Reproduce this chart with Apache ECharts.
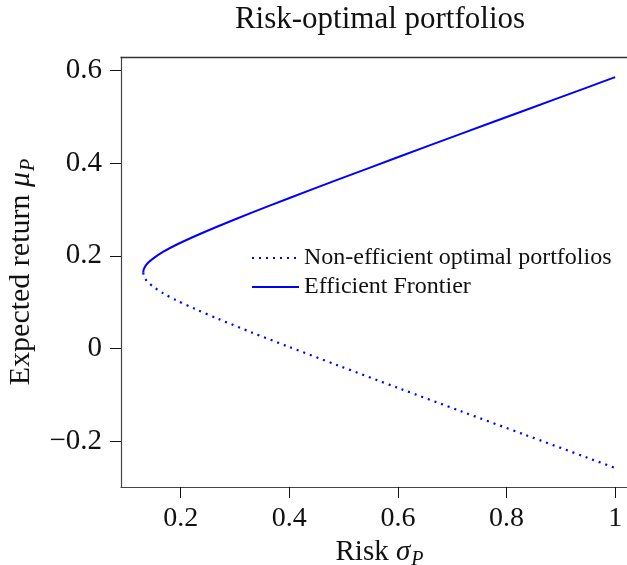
<!DOCTYPE html>
<html>
<head>
<meta charset="utf-8">
<script src="https://cdn.jsdelivr.net/npm/echarts@6/dist/echarts.min.js"></script>
<style>html,body{margin:0;padding:0;background:#fff}#c{width:627px;height:565px}</style>
</head>
<body>
<div id="c"></div>
<script>
// Values
var riskValues = [0.131, 0.1315, 0.133, 0.139, 0.149, 0.168, 0.192, 0.229, 0.269, 0.332, 0.398, 0.488, 0.602, 0.717, 0.833, 0.949, 1.0];
var efficientMu = [0.164, 0.169, 0.174, 0.184, 0.194, 0.209, 0.224, 0.244, 0.264, 0.294, 0.324, 0.364, 0.414, 0.464, 0.514, 0.564, 0.586];
var nonEfficientMu = [0.164, 0.159, 0.154, 0.144, 0.134, 0.119, 0.104, 0.084, 0.064, 0.034, 0.004, -0.036, -0.086, -0.136, -0.186, -0.236, -0.258];
var xTicks = [0.2, 0.4, 0.6, 0.8, 1];
var yTicks = [-0.2, 0, 0.2, 0.4, 0.6];

var FONT = '"Liberation Serif", "DejaVu Serif", serif';
function pairs(xs, ys) { return xs.map(function (x, i) { return [x, ys[i]]; }); }
function fmt(v) { return String(+v.toFixed(2)).replace('-', '\u2212'); }

var XMIN = 0.090, XMAX = 1.042;
var chart = echarts.init(document.getElementById('c'), null, { renderer: 'canvas' });
chart.setOption({
  animation: false,
  backgroundColor: '#fff',
  graphic: [{
    type: 'text', x: 380, y: 4,
    style: { text: 'Risk-optimal portfolios', fontSize: 31, fontFamily: FONT, fill: '#111', align: 'center', textAlign: 'center' }
  }],
  grid: { left: 121, top: 57, right: -11, bottom: 78, outerBoundsMode: 'none', containLabel: false, show: false },
  legend: {
    orient: 'vertical', left: 251, top: 246, itemWidth: 47, itemHeight: 14, itemGap: 5, padding: 0,
    itemStyle: { opacity: 0 },
    textStyle: { fontSize: 24, fontFamily: FONT, color: '#111' },
    data: ['Non-efficient optimal portfolios', 'Efficient Frontier']
  },
  xAxis: [{
    type: 'value', min: XMIN, max: XMAX,
    splitLine: { show: false },
    axisLine: { show: true, onZero: false, lineStyle: { color: '#444', width: 1.2 } },
    axisTick: { show: true, inside: false, length: 11, customValues: xTicks, lineStyle: { color: '#111', width: 1 } },
    axisLabel: { customValues: xTicks, margin: 18, fontSize: 28, fontFamily: FONT, color: '#111', formatter: fmt },
    name: 'Risk {i|σ}{s|P}', nameLocation: 'middle', nameGap: 42,
    nameTextStyle: {
      fontSize: 29, fontFamily: FONT, color: '#111',
      rich: {
        i: { fontSize: 29, fontFamily: FONT, fontStyle: 'italic', color: '#111' },
        s: { fontSize: 20, fontFamily: FONT, fontStyle: 'italic', color: '#111', padding: [14, 0, 0, 1] }
      }
    }
  }, {
    type: 'value', position: 'top', min: XMIN, max: XMAX,
    splitLine: { show: false },
    axisLine: { show: true, onZero: false, lineStyle: { color: '#333', width: 1.3 } },
    axisTick: { show: false }, axisLabel: { show: false }
  }],
  yAxis: {
    type: 'value', min: -0.2992, max: 0.6295,
    splitLine: { show: false },
    axisLine: { show: true, onZero: false, lineStyle: { color: '#444', width: 1.2 } },
    axisTick: { show: true, inside: false, length: 11, customValues: yTicks, lineStyle: { color: '#111', width: 1 } },
    axisLabel: { customValues: yTicks, margin: 19, fontSize: 29, fontFamily: FONT, color: '#111', formatter: fmt },
    name: 'Expected return {i|μ}{s|P}', nameLocation: 'middle', nameGap: 80,
    nameTextStyle: {
      fontSize: 30, fontFamily: FONT, color: '#111',
      rich: {
        i: { fontSize: 30, fontFamily: FONT, fontStyle: 'italic', color: '#111' },
        s: { fontSize: 20, fontFamily: FONT, fontStyle: 'italic', color: '#111', padding: [14, 0, 0, 1] }
      }
    }
  },
  series: [{
    name: 'Non-efficient optimal portfolios', type: 'line', symbol: 'none', smooth: 0.3,
    data: pairs(riskValues, nonEfficientMu),
    lineStyle: { color: '#0000ff', width: 2.2, type: [2, 5] },
    itemStyle: { color: '#0000ff' }
  }, {
    name: 'Efficient Frontier', type: 'line', symbol: 'none', smooth: 0.3,
    data: pairs(riskValues, efficientMu),
    lineStyle: { color: '#0000ff', width: 2 },
    itemStyle: { color: '#0000ff' }
  }]
});
</script>
</body>
</html>
